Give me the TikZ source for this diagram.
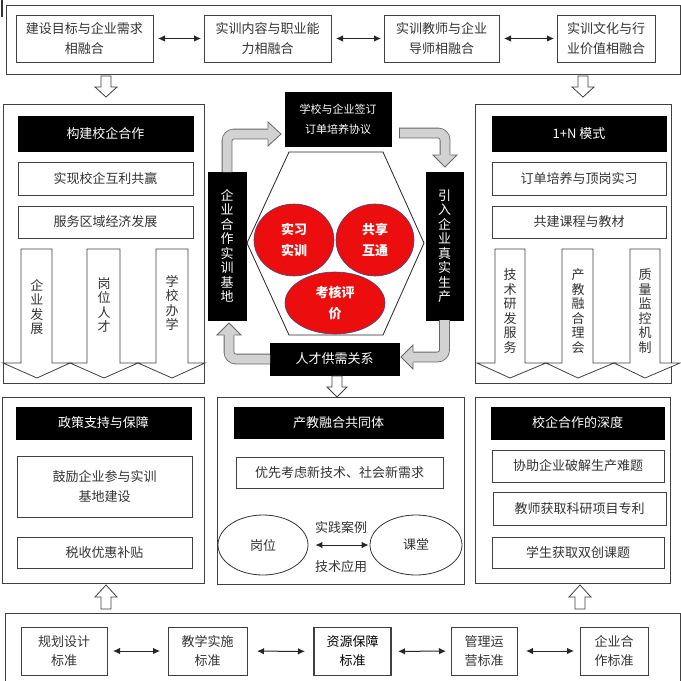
\documentclass[tikz,border=0pt]{standalone}
\usepackage{fontspec}
\setmainfont{Noto Sans CJK SC}
\usetikzlibrary{arrows.meta,calc,shapes.geometric}
\definecolor{cred}{RGB}{236,14,14}
\definecolor{cedge}{RGB}{70,70,130}
\newcommand\myfs{\fontsize{13}{20}\selectfont}
\newcommand\myvfs{\fontsize{13}{14.5}\selectfont}
\newcommand\mysfs{\fontsize{13}{19}\selectfont}
\begin{document}
\begin{tikzpicture}[x=1pt,y=-1pt,line join=miter,
 panel/.style={draw=black!75,line width=0.8pt},
 wbox/.style={draw=black!75,line width=0.8pt,fill=white,text=black!80,font=\myfs,align=center,inner sep=0pt,outer sep=0pt},
 kbox/.style={draw=black,fill=black,text=white,font=\myfs,align=center,inner sep=0pt,outer sep=0pt},
 dbl/.style={{Latex[length=7pt,width=6.5pt]}-{Latex[length=7pt,width=6.5pt]},line width=1pt,black!85},
 harrow/.style={draw=black!75,line width=0.8pt,fill=white},
 barrow/.style={draw=black!75,line width=0.8pt,fill=white},
 gshaft/.style={draw=gray!35,line width=9pt,rounded corners=7pt,preaction={draw=black!60,line width=10.6pt}},
 ghead/.style={fill=gray!35},
 gline/.style={draw=black!60,line width=0.8pt},
 vtext/.style={font=\myvfs,text=black!80,align=center,inner sep=0pt},
 rcirc/.style={ellipse,fill=cred,draw=cedge,line width=0.6pt,text=white,font=\fontsize{13}{21}\selectfont\bfseries,align=center,inner sep=0pt},
 wellip/.style={ellipse,draw=black!80,line width=0.8pt,fill=white,text=black!80,font=\myfs,inner sep=0pt},
 lbl/.style={text=black!80,font=\myfs,inner sep=0pt}
]
\useasboundingbox (0,0) rectangle (681,681);
\fill[white] (0,0) rectangle (681,681);
\draw[line width=1.6pt,black!80] (2,0) -- (2,17);

% ---------- top row ----------
\draw[panel] (6,5) rectangle (680.5,74);
\node[wbox,minimum width=137,minimum height=47] (t1) at (84.5,38.5) {建设目标与企业需求\\相融合};
\node[wbox,minimum width=127,minimum height=47] (t2) at (267.5,38.5) {实训内容与职业能\\力相融合};
\node[wbox,minimum width=115,minimum height=47] (t3) at (441.5,38.5) {实训教师与企业\\导师相融合};
\node[wbox,minimum width=98,minimum height=47] (t4) at (606,38.5) {实训文化与行\\业价值相融合};
\draw[dbl,shorten <=5pt,shorten >=3pt] (t1) -- (t2);
\draw[dbl,shorten <=5pt,shorten >=3pt] (t2) -- (t3);
\draw[dbl,shorten <=5pt,shorten >=3pt] (t3) -- (t4);

\draw[harrow] (101,76) -- ++(0,11) -- ++(-6,0) -- ++(11,10) -- ++(11,-10) -- ++(-6,0) -- ++(0,-11) -- cycle;
\draw[harrow] (578,76) -- ++(0,11) -- ++(-6,0) -- ++(11,10) -- ++(11,-10) -- ++(-6,0) -- ++(0,-11) -- cycle;

% ---------- left middle panel ----------
\draw[panel] (3,104) rectangle (204,383);
\node[kbox,minimum width=175,minimum height=35] (lh) at (105.5,133.5) {构建校企合作};
\node[wbox,minimum width=175,minimum height=33] (lb1) at (105.5,178.5) {实现校企互利共赢};
\node[wbox,minimum width=175,minimum height=32] (lb2) at (105.5,222) {服务区域经济发展};
\draw[barrow] (21,249) -- (21,363) -- (3,363) -- (37,378) -- (70,363) -- (52,363) -- (52,249) -- cycle;
\draw[barrow] (87,249) -- (87,363) -- (70,363) -- (104,378) -- (138,363) -- (120,363) -- (120,249) -- cycle;
\draw[barrow] (156,249) -- (156,363) -- (138,363) -- (172,378) -- (205,363) -- (188,363) -- (188,249) -- cycle;
\node[vtext] (la1) at (37,307) {企\\业\\发\\展};
\node[vtext] (la2) at (104,305) {岗\\位\\人\\才};
\node[vtext] (la3) at (172,303) {学\\校\\办\\学};

% ---------- right middle panel ----------
\draw[panel] (475,104) rectangle (671,383);
\node[kbox,minimum width=174,minimum height=35] (rh) at (579,133.5) {1+N 模式};
\node[wbox,minimum width=174,minimum height=33] (rb1) at (579,178.5) {订单培养与顶岗实习};
\node[wbox,minimum width=174,minimum height=32] (rb2) at (579,222) {共建课程与教材};
\draw[barrow] (495,249) -- (495,363) -- (477,363) -- (510,378) -- (546,363) -- (525,363) -- (525,249) -- cycle;
\draw[barrow] (562,249) -- (562,363) -- (546,363) -- (578,378) -- (614,363) -- (593,363) -- (593,249) -- cycle;
\draw[barrow] (630,249) -- (630,363) -- (614,363) -- (645,378) -- (680,363) -- (660,363) -- (660,249) -- cycle;
\node[vtext] (ra1) at (510,311) {技\\术\\研\\发\\服\\务};
\node[vtext] (ra2) at (578,311) {产\\教\\融\\合\\理\\会};
\node[vtext] (ra3) at (645,311) {质\\量\\监\\控\\机\\制};

% ---------- centre ----------
\draw[black!85,line width=0.8pt] (289,152) -- (383,152) -- (424,243) -- (383,335) -- (289,335) -- (247,243) -- cycle;
\node[rcirc,minimum width=80,minimum height=72] (c1) at (294,240) {实习\\实训};
\node[rcirc,minimum width=78,minimum height=72] (c2) at (375,240) {共享\\互通};
\node[rcirc,minimum width=100,minimum height=62] (c3) at (335,303) {考核评\\价};

\node[kbox,minimum width=106,minimum height=54,font=\fontsize{11}{20}\selectfont] (topbox) at (338,119) {学校与企业签订\\订单培养协议};
\node[kbox,minimum width=38,minimum height=148,font=\myvfs] (lbox) at (227,246) {企\\业\\合\\作\\实\\训\\基\\地};
\node[kbox,minimum width=37,minimum height=148,font=\myvfs] (rbox) at (444.5,246) {引\\入\\企\\业\\真\\实\\生\\产};
\node[kbox,minimum width=129,minimum height=32] (bbox) at (334.5,359) {人才供需关系};

% gray arrows
\draw[gshaft] (lbox.north) -- (227,134) -- (268,134);
\fill[ghead] (268,122) -- (281,134) -- (268,146) -- cycle;
\draw[gline] (268,128.7) -- (268,122) -- (281,134) -- (268,146) -- (268,139.3);

\draw[gshaft] (399,133) -- (445,133) -- (445,155);
\fill[ghead] (433,155) -- (445,167) -- (457,155) -- cycle;
\draw[gline] (439.7,155) -- (433,155) -- (445,167) -- (457,155) -- (450.3,155);
\draw[gline] (399,127.7) -- (399,138.3);

\draw[gshaft] (rbox.south) -- (444.5,357) -- (413,357);
\fill[ghead] (413,345) -- (401,357) -- (413,369) -- cycle;
\draw[gline] (413,351.7) -- (413,345) -- (401,357) -- (413,369) -- (413,362.3);

\draw[gshaft] (bbox.west) -- (229,359) -- (229,335);
\fill[ghead] (217,335) -- (229,323) -- (241,335) -- cycle;
\draw[gline] (223.7,335) -- (217,335) -- (229,323) -- (241,335) -- (234.3,335);

\draw[harrow] (332,376) -- ++(0,11) -- ++(-5,0) -- ++(10,10) -- ++(10,-10) -- ++(-5,0) -- ++(0,-11) -- cycle;

% ---------- bottom-left panel ----------
\draw[panel] (2,397) rectangle (204,583);
\node[kbox,minimum width=175,minimum height=32] (blh) at (103.5,423) {政策支持与保障};
\node[wbox,minimum width=175,minimum height=61] (bl1) at (104.5,486.5) {鼓励企业参与实训\\基地建设};
\node[wbox,minimum width=175,minimum height=31] (bl2) at (104.5,552.5) {税收优惠补贴};

% ---------- bottom-centre panel ----------
\draw[panel] (217,397) rectangle (464,584);
\node[kbox,minimum width=209,minimum height=31] (bch) at (338.5,422.5) {产教融合共同体};
\node[wbox,minimum width=207,minimum height=31] (bc1) at (339.5,472.5) {优先考虑新技术、社会新需求};
\node[wellip,minimum width=90,minimum height=60] (e1) at (263,545) {岗位};
\node[wellip,minimum width=92,minimum height=60] (e2) at (416,545) {课堂};
\draw[dbl,shorten <=7pt,shorten >=1pt] (e1) -- (e2);
\node[lbl] (l1) at (341,528) {实践案例};
\node[lbl] (l2) at (341,567) {技术应用};

% ---------- bottom-right panel ----------
\draw[panel] (475,397) rectangle (670,583);
\node[kbox,minimum width=173,minimum height=32] (brh) at (577.5,423) {校企合作的深度};
\node[wbox,minimum width=172,minimum height=32] (br1) at (578,466) {协助企业破解生产难题};
\node[wbox,minimum width=173,minimum height=33] (br2) at (579.5,508.5) {教师获取科研项目专利};
\node[wbox,minimum width=172,minimum height=31] (br3) at (578,552.5) {学生获取双创课题};

% up arrows
\draw[harrow] (101,609) -- ++(0,-12) -- ++(-6,0) -- ++(11,-12) -- ++(11,12) -- ++(-6,0) -- ++(0,12) -- cycle;
\draw[harrow] (575,609) -- ++(0,-12) -- ++(-6,0) -- ++(11,-12) -- ++(11,12) -- ++(-6,0) -- ++(0,12) -- cycle;

% ---------- bottom row ----------
\draw[panel] (5,681) -- (5,613) -- (680.5,613) -- (680.5,681);
\node[wbox,font=\mysfs,minimum width=86,minimum height=48] (s1) at (64,651) {规划设计\\标准};
\node[wbox,font=\mysfs,minimum width=79,minimum height=48] (s2) at (207.5,651) {教学实施\\标准};
\node[wbox,font=\mysfs,minimum width=77,minimum height=48,line width=1.2pt,text=black] (s3) at (352.5,651.5) {资源保障\\标准};
\node[wbox,font=\mysfs,minimum width=66,minimum height=48] (s4) at (484,651) {管理运\\营标准};
\node[wbox,font=\mysfs,minimum width=68,minimum height=48] (s5) at (614,651) {企业合\\作标准};
\draw[dbl,shorten <=6pt,shorten >=8pt] (s1) -- (s2);
\draw[dbl,shorten <=10pt,shorten >=9pt] (s2) -- (s3);
\draw[dbl,shorten <=7pt,shorten >=5pt] (s3) -- (s4);
\draw[dbl,shorten <=9pt,shorten >=6pt] (s4) -- (s5);
\end{tikzpicture}
\end{document}
